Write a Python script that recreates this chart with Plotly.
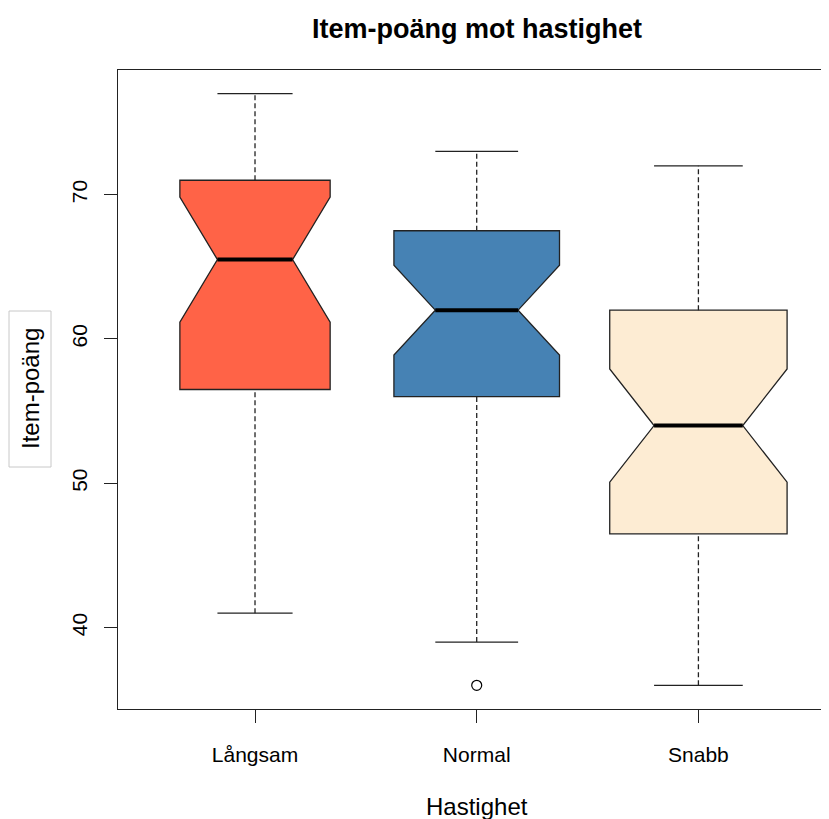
import numpy as np
import plotly.graph_objects as go

# ---- data ----
categories = ["Långsam", "Normal", "Snabb"]
n_obs = [28, 34, 39]
lower_whisker = [41, 39, 36]
q1 = [56.5, 56.0, 46.5]
median = [65.5, 62.0, 54.0]
q3 = [71.0, 67.5, 62.0]
upper_whisker = [77, 73, 72]
outlier_group = ["Normal"]
outlier_value = [36]
y_tick_values = [40, 50, 60, 70]

# ---- style ----
fill_colors = ["#FF6347", "#4682B4", "#FDECD3"]
edge = "#222222"
FONT = "Liberation Sans, Arial, Helvetica, sans-serif"

positions = [i + 1 for i in range(len(categories))]
max_sqrt = max(np.sqrt(n_obs))
box_w = [0.8 * np.sqrt(n) / max_sqrt for n in n_obs]
notch = [1.58 * (q3[i] - q1[i]) / np.sqrt(n_obs[i]) for i in range(len(categories))]

fig = go.Figure()

for i, cat in enumerate(categories):
    p = positions[i]
    w = box_w[i]
    # dashed whiskers
    fig.add_trace(go.Scatter(
        x=[p, p, None, p, p],
        y=[lower_whisker[i], q1[i], None, q3[i], upper_whisker[i]],
        mode="lines", line=dict(color=edge, width=1.3, dash="5px,3px"),
        showlegend=False, hoverinfo="skip"))
    # staples
    fig.add_trace(go.Scatter(
        x=[p - w / 4, p + w / 4, None, p - w / 4, p + w / 4],
        y=[lower_whisker[i], lower_whisker[i], None, upper_whisker[i], upper_whisker[i]],
        mode="lines", line=dict(color=edge, width=1.3),
        showlegend=False, hoverinfo="skip"))
    # notched box
    fig.add_trace(go.Box(
        x=[p], q1=[q1[i]], median=[median[i]], q3=[q3[i]],
        lowerfence=[q1[i]], upperfence=[q3[i]],
        notched=True, notchspan=[notch[i]], notchwidth=0.25,
        width=w, whiskerwidth=0, boxpoints=False,
        fillcolor=fill_colors[i], line=dict(color=edge, width=1.3),
        name=cat, showlegend=False))
    # thick median
    fig.add_trace(go.Scatter(
        x=[p - w / 4, p + w / 4], y=[median[i], median[i]],
        mode="lines", line=dict(color="black", width=4),
        showlegend=False, hoverinfo="skip"))

# outliers
fig.add_trace(go.Scatter(
    x=[positions[categories.index(g)] for g in outlier_group], y=outlier_value,
    mode="markers",
    marker=dict(symbol="circle-open", size=10, color="black", line=dict(width=1.2)),
    showlegend=False, hoverinfo="skip"))

OFF = 8  # page body margin
W, H = 829 - OFF, 819 - OFF
L = 118 - OFF
T = 70 - OFF
B = H - (709 - OFF)
plot_w = W - L
px_per_unit = 221.7
x0 = 0.382

fig.update_layout(
    width=W, height=H,
    margin=dict(l=L, r=0, t=T, b=B, pad=0),
    plot_bgcolor="white", paper_bgcolor="white",
    font=dict(family=FONT, color="black", size=21),
    xaxis=dict(
        range=[x0, x0 + plot_w / px_per_unit],
        tickmode="array", tickvals=positions, ticktext=categories,
        ticks="outside", ticklen=13, tickwidth=1.3, tickcolor=edge,
        showline=True, linecolor=edge, linewidth=1.3, mirror=True,
        showgrid=False, zeroline=False,
        tickfont=dict(size=21), ticklabelstandoff=14),
    yaxis=dict(
        range=[34.36, 78.64],
        tickmode="array", tickvals=y_tick_values,
        ticks="outside", ticklen=13, tickwidth=1.3, tickcolor=edge,
        showline=True, linecolor=edge, linewidth=1.3, mirror=False,
        showgrid=False, zeroline=False, tickangle=-90,
        tickfont=dict(size=21), ticklabelstandoff=8),
)

ph = H - T - B
def py(pix):
    return (H - B - (pix - OFF)) / ph
def pxp(pix):
    return (pix - OFF - L) / plot_w

fig.add_annotation(text="<b>Item-poäng mot hastighet</b>", xref="x", yref="paper",
                   x=2, y=py(29), showarrow=False, font=dict(size=27),
                   xanchor="center", yanchor="middle")
fig.add_annotation(text="Hastighet", xref="x", yref="paper",
                   x=2, y=py(806), showarrow=False, font=dict(size=24),
                   xanchor="center", yanchor="middle")
fig.add_annotation(text="Item-poäng", xref="paper", yref="paper",
                   x=pxp(30), y=py(389), showarrow=False, font=dict(size=24),
                   textangle=-90, xanchor="center", yanchor="middle")
fig.add_shape(type="rect", xref="paper", yref="paper",
              x0=pxp(9), x1=pxp(51), y0=py(467), y1=py(311),
              line=dict(color="#C8C8C8", width=1), fillcolor="rgba(0,0,0,0)")

fig.write_html("out.html")
